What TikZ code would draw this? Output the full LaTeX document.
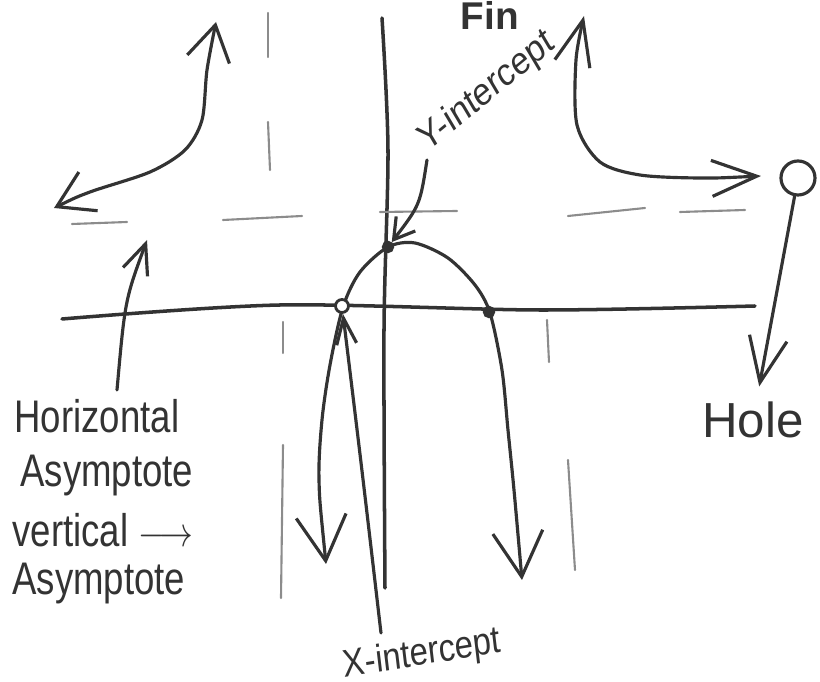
\documentclass[tikz,border=0pt]{standalone}
\usepackage{fontspec}
\setmainfont{Liberation Sans}
\usetikzlibrary{arrows.meta}
\definecolor{ink}{gray}{0.2}
\definecolor{faint}{gray}{0.55}
\tikzset{
	pen/.style = {line width = 0.9pt, draw = ink, line cap = round},
	dashline/.style = {line width = 0.6pt, draw = faint, line cap = round},
	hand/.style = {text = ink, inner sep = 0pt, font = \fontsize{13}{15}\selectfont, xscale = 0.8},
	smallhand/.style = {text = ink, inner sep = 0pt, font = \fontsize{11}{13}\selectfont, xscale = 0.85},
	dot/.style = {circle, fill = ink, draw = ink, inner sep = 0pt, minimum size = 1.1mm},
	opendot/.style = {circle, fill = white, draw = ink, line width = 0.8pt, inner sep = 0pt, minimum size = 1.3mm},
	barb/.style 2 args = {arrows = {-Straight Barb[length = #1, width = #2]}},
	barbs/.style 2 args = {arrows = {Straight Barb[length = #1, width = #2]-Straight Barb[length = #1, width = #2]}}
}
\begin{document}
\begin{tikzpicture}[x = 0.01cm, y = -0.01cm]
	\useasboundingbox (0,0) rectangle (820,682);
	% axes
	\draw [pen, line width = 1pt] plot [smooth] coordinates {(62,319) (280,305) (540,310) (755,306)};
	\draw [pen, line width = 1pt] plot [smooth] coordinates {(382,18) (388,150) (384,330) (385,588)};
	% asymptotes
	\draw [dashline] (268,13) -- (268,57);
	\draw [dashline] (268,122) -- (270,170);
	\draw [dashline] (283,322) -- (283,353);
	\draw [dashline] (283,445) -- (281,598);
	\draw [dashline] (547,320) -- (549,362);
	\draw [dashline] (568,460) -- (575,570);
	\draw [dashline] (72,224) -- (127,222);
	\draw [dashline] (223,220) -- (302,216);
	\draw [dashline] (380,212) -- (457,211);
	\draw [dashline] (568,216) -- (645,208);
	\draw [dashline] (680,212) -- (745,210);
	% graph
	\draw [pen, barbs = {3.5mm}{4.3mm}] plot [smooth] coordinates {(54,208) (90,192) (150,172) (185,150) (202,120) (207,70) (216,22)};
	\draw [pen, barbs = {4.5mm}{3.6mm}] plot [smooth] coordinates {(761,176) (700,178) (640,175) (600,162) (577,125) (576,60) (584,16)};
	\draw [pen, barbs = {4.5mm}{5mm}] plot [smooth] coordinates {(326,564) (319,480) (322,420) (330,365) (343,307) (360,272) (388,247) (415,243) (448,258) (475,285) (490,313) (502,370) (508,430) (514,490) (522,580)};
	\node [dot] (yint) at (388,247) {};
	\node [opendot] (xleft) at (342,306) {};
	\node [dot] (xright) at (489,312) {};
	\node [circle, draw = ink, line width = 0.9pt, minimum size = 3.4mm, inner sep = 0pt] (hole) at (798,178) {};
	% labels
	\node [text = ink, inner sep = 0pt, font = \bfseries\fontsize{11}{13}\selectfont] (fin) at (490,15) {Fin};
	\node [smallhand, rotate = 35] (ylab) at (487,92) {Y-intercept};
	\node [smallhand, rotate = 8] (xlab) at (422,655) {X-intercept};
	\node [text = ink, inner sep = 0pt, font = \fontsize{14}{16}\selectfont] (holelab) at (753,420) {Hole};
	\node [hand, anchor = west] (hlab) at (14,416) {Horizontal};
	\node [hand, anchor = west] (hlab2) at (20,476) {Asymptote};
	\node [hand, anchor = west] (vlab) at (12,530) {vertical $\longrightarrow$};
	\node [hand, anchor = west] (vlab2) at (12,584) {Asymptote};
	% pointers
	\coordinate (ytail) at (427,160);
	\coordinate (xtail) at (381,633);
	\coordinate (hatail) at (117,390);
	\coordinate (hatip) at (147,240);
	\draw [pen, barb = {2mm}{2.4mm}] (ytail) .. controls (420,205) .. (yint);
	\draw [pen, barb = {2.6mm}{2mm}] (xtail) .. controls (362,470) .. (xleft);
	\draw [pen, barb = {4.5mm}{3.8mm}, shorten > = 1.5mm] (hole) -- (holelab);
	\draw [pen, barb = {3mm}{2.6mm}] (hatail) .. controls (125,300) .. (hatip);
\end{tikzpicture}
\end{document}
